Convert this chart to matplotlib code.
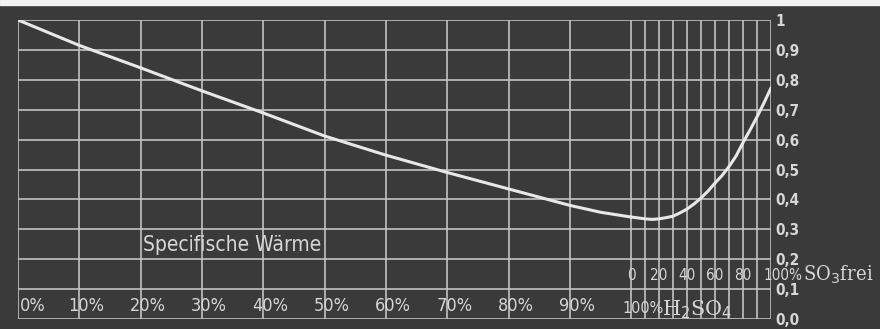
import matplotlib
matplotlib.use('Agg')
import matplotlib.pyplot as plt
from matplotlib.patches import Rectangle

# specific heat of sulphuric acid (H2SO4 %) and of oleum (free SO3 %)
h2so4_pct = [0, 10, 20, 30, 40, 50, 60, 70, 80, 90, 95, 100]
h2so4_cp = [1.0, 0.915, 0.84, 0.763, 0.689, 0.612, 0.548, 0.49, 0.435, 0.38, 0.357, 0.341]
so3_pct = [0, 5, 10, 15, 20, 25, 30, 35, 40, 45, 50, 55, 60, 65, 70, 75, 80, 85, 90, 95, 100]
so3_cp = [0.341, 0.338, 0.335, 0.333, 0.335, 0.339, 0.344, 0.355, 0.368, 0.385, 0.405,
          0.428, 0.455, 0.48, 0.51, 0.545, 0.59, 0.632, 0.676, 0.723, 0.773]

h2so4_labels = ['0%', '10%', '20%', '30%', '40%', '50%', '60%', '70%', '80%', '90%']
so3_labels = ['0', '20', '40', '60', '80']
y_ticks = [0.0, 0.1, 0.2, 0.3, 0.4, 0.5, 0.6, 0.7, 0.8, 0.9, 1.0]
y_labels = ['0,0', '0,1', '0,2', '0,3', '0,4', '0,5', '0,6', '0,7', '0,8', '0,9', '1']

# oleum part of the x axis is compressed: 100 % SO3 takes 22.8 units of the H2SO4 scale
so3_scale = 0.228


def so3_x(p):
    return 100 + p * so3_scale


bg = '#3a3a3a'
grid_c = '#c2c2c2'
txt_c = '#d6d6d6'
cond = dict(family='DejaVu Sans', fontstretch='condensed', color=txt_c)

fig = plt.figure(figsize=(8.8, 3.29), dpi=100, facecolor=bg)
fig.patches.append(Rectangle((0, 1 - 5 / 329), 1, 5 / 329, transform=fig.transFigure,
                             color='#f2f2f2', zorder=0))
ax = fig.add_axes([18 / 880, 1 - 319 / 329, (771 - 18) / 880, (319 - 20) / 329])
ax.set_facecolor(bg)
ax.set_xlim(0, so3_x(100))
ax.set_ylim(0, 1)

for p in range(0, 101, 10):
    ax.axvline(p, color=grid_c, lw=1.2, zorder=1)
for p in range(10, 101, 10):
    ax.axvline(so3_x(p), color=grid_c, lw=1.2, zorder=1)
for v in y_ticks:
    ax.axhline(v, color=grid_c, lw=1.2, zorder=1)

ax.plot(h2so4_pct, h2so4_cp, color='#e8e8e8', lw=2.2, zorder=3, solid_capstyle='round')
ax.plot([so3_x(p) for p in so3_pct], so3_cp, color='#e8e8e8', lw=2.2, zorder=3,
        solid_capstyle='round')

for s in ax.spines.values():
    s.set_visible(False)
ax.set_xticks([])
ax.yaxis.tick_right()
ax.set_yticks(y_ticks)
ax.set_yticklabels(y_labels, fontsize=11, fontweight='bold', **cond)
ax.tick_params(axis='y', length=0, pad=3)
# the 0,2 label sits a little higher in the original
ax.get_yticklabels()[2].set_y(0.215)

# bottom scale, H2SO4 %
for i, lab in enumerate(h2so4_labels):
    x0 = 0.3 if i == 0 else i * 10 - 1.8
    ax.text(x0, 0.045, lab, ha='left', va='center', fontsize=13, **cond)
ax.text(98.5, 0.035, '100%', ha='left', va='center', fontsize=11.5, **cond)
ax.text(105.0, 0.032, r'H$_2$SO$_4$', ha='left', va='center', family='DejaVu Serif',
        fontsize=15, color=txt_c)

# upper scale, free SO3 %
for i, lab in enumerate(so3_labels):
    ax.text(so3_x(i * 20), 0.147, lab, ha='center', va='center', fontsize=11, **cond)
ax.text(so3_x(100) - 1.3, 0.147, '100%', ha='left', va='center', fontsize=11, **cond)
ax.text(128.0, 0.147, r'SO$_3$frei', ha='left', va='center', family='DejaVu Serif',
        fontstretch='condensed', fontsize=14.5, color=txt_c)

ax.text(34.9, 0.247, 'Specifische Wärme', ha='center', va='center', fontsize=15, **cond)

fig.savefig('out.png', dpi=100, facecolor=bg)
